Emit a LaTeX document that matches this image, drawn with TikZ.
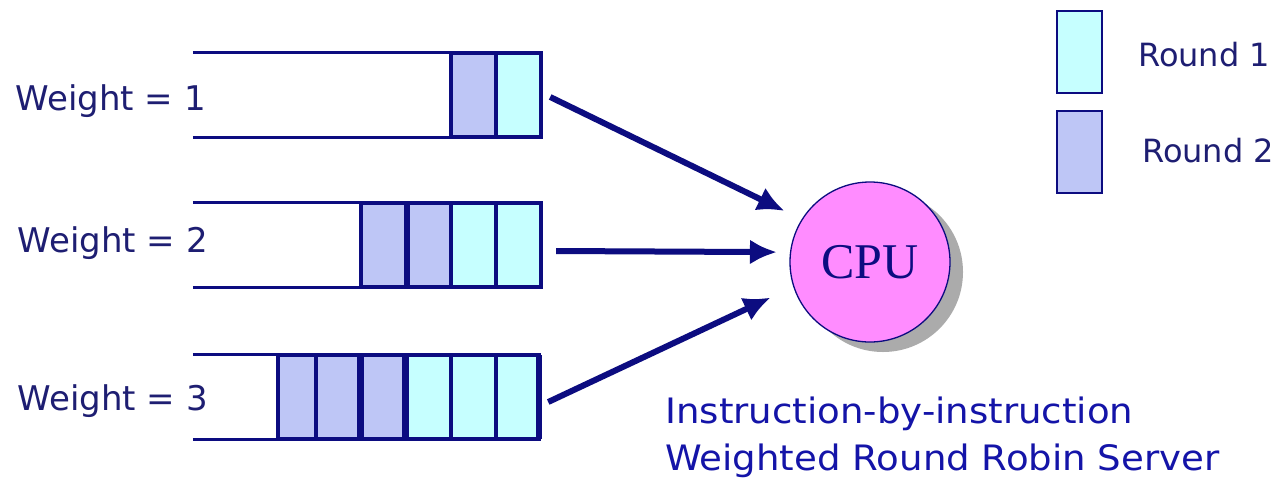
\documentclass[tikz,border=0pt]{standalone}
\usepackage{fontspec}
\setmainfont{DejaVu Sans}
\newfontfamily\cpufont{Liberation Serif}
\newfontfamily\notefont[FakeStretch=1.06]{DejaVu Sans}
\usetikzlibrary{arrows.meta}

\definecolor{navy}{HTML}{0C0C80}
\definecolor{labelink}{HTML}{1E1E72}
\definecolor{noteink}{HTML}{1414A8}
\definecolor{roundone}{HTML}{C6FFFF}
\definecolor{roundtwo}{HTML}{BEC6F6}
\definecolor{cpupink}{HTML}{FF8CFF}

\tikzset{
  queueline/.style={draw=navy, line width=2.8pt},
  cellone/.style={draw=navy, line width=3.2pt, fill=roundone},
  celltwo/.style={draw=navy, line width=3.2pt, fill=roundtwo},
  legendbox/.style={draw=navy, line width=2.2pt},
  weightlabel/.style={text=labelink, font=\fontsize{34}{38}\selectfont, anchor=base east, inner sep=0pt},
  legendlabel/.style={text=labelink, font=\fontsize{32}{36}\selectfont, anchor=base west, inner sep=0pt},
  note/.style={text=noteink, font=\notefont\fontsize{35}{40}\selectfont, anchor=base west, inner sep=0pt},
  queue/.style={rectangle, inner sep=0pt, minimum width=348pt, minimum height=84pt},
  feed/.style={draw=navy, line width=6pt, -{Latex[length=27pt,width=25pt]}},
}

\begin{document}
\begin{tikzpicture}[x=1pt, y=-1pt]
  \useasboundingbox (0,0) rectangle (1281,485);
  \fill[white] (0,0) rectangle (1281,485);

  % queue frames (top and bottom rails)
  \node[queue] (q1) at (367,95) {};
  \node[queue] (q2) at (367,245) {};
  \node[queue] (q3) at (367,397) {};
  \foreach \q in {q1,q2,q3}{
    \draw[queueline] (\q.north west) -- (\q.north east);
    \draw[queueline] (\q.south west) -- (\q.south east);
  }

  % weight 1: one cell per round
  \draw[celltwo] (451,53) rectangle (496,137);
  \draw[cellone] (496,53) rectangle (541,137);

  % weight 2: two cells per round
  \draw[celltwo] (361,203) rectangle (406,287);
  \draw[celltwo] (408,203) rectangle (451,287);
  \draw[cellone] (451,203) rectangle (496,287);
  \draw[cellone] (496,203) rectangle (541,287);

  % weight 3: three cells per round
  \draw[celltwo] (278,355) rectangle (316,439);
  \draw[celltwo] (316,355) rectangle (359,439);
  \draw[celltwo] (362,355) rectangle (404,439);
  \draw[cellone] (407,355) rectangle (451,439);
  \draw[cellone] (451,355) rectangle (496,439);
  \draw[cellone] (496,355) rectangle (538,439);
  \draw[navy, line width=2pt] (541,355) -- (541,439);

  % queue labels
  \node[weightlabel] (w1) at (206,110) {Weight = 1};
  \node[weightlabel] (w2) at (208,252) {Weight = 2};
  \node[weightlabel] (w3) at (208,410) {Weight = 3};

  % processor with drop shadow
  \fill[black!33] (883,272) circle (80);
  \node[circle, draw=navy, line width=1.3pt, fill=cpupink, minimum size=160pt, inner sep=0pt,
        text=navy, font=\cpufont\fontsize{50}{50}\selectfont] (cpu) at (870,262) {CPU};

  % feeds into the processor
  \draw[feed, shorten >=19pt] ([xshift=9pt,yshift=-2pt]q1.east) -- (cpu.148);
  \draw[feed, shorten >=13pt] ([xshift=15pt,yshift=-6pt]q2.east) -- (cpu.173);
  \draw[feed, shorten >=25pt] ([xshift=7pt,yshift=-5pt]q3.east) -- (cpu.198);

  % legend
  \node[legendbox, fill=roundone, minimum width=45pt, minimum height=82pt, inner sep=0pt] (l1) at (1079.5,52) {};
  \node[legendbox, fill=roundtwo, minimum width=45pt, minimum height=82pt, inner sep=0pt] (l2) at (1079.5,152) {};
  \node[legendlabel] (r1) at (1138,66) {Round 1};
  \node[legendlabel] (r2) at (1142,162) {Round 2};

  % caption
  \node[note] (n1) at (665,423) {Instruction-by-instruction};
  \node[note] (n2) at (665,470) {Weighted Round Robin Server};
\end{tikzpicture}
\end{document}
